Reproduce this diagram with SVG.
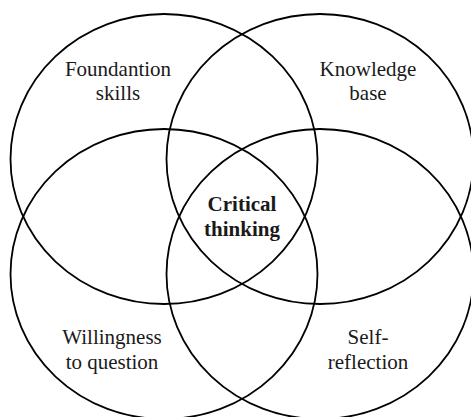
<svg xmlns="http://www.w3.org/2000/svg" width="471" height="417" viewBox="0 0 471 417">
<style>
.c{fill:none;stroke:#000;stroke-width:1.8}
.t{font-family:"Liberation Serif","Times New Roman",serif;font-size:21px;fill:#1a1a1a;text-anchor:middle}
.b{font-weight:bold}
</style>
<rect width="471" height="417" fill="#fff"/>
<g id="foundation"><ellipse class="c" cx="164" cy="159" rx="153.5" ry="145"/><text class="t" x="118" y="76">Foundantion</text><text class="t" x="118" y="100">skills</text></g>
<g id="knowledge"><ellipse class="c" cx="320" cy="159" rx="153.5" ry="145"/><text class="t" x="368" y="76">Knowledge</text><text class="t" x="368" y="100">base</text></g>
<g id="willingness"><ellipse class="c" cx="164" cy="274" rx="153.5" ry="145"/><text class="t" x="112" y="344">Willingness</text><text class="t" x="112" y="369">to question</text></g>
<g id="self"><ellipse class="c" cx="320" cy="274" rx="153.5" ry="145"/><text class="t" x="368" y="344">Self-</text><text class="t" x="368" y="369">reflection</text></g>
<g id="critical"><text class="t b" x="242" y="211">Critical</text><text class="t b" x="242" y="236">thinking</text></g>
<g id="connectors"/>
</svg>
